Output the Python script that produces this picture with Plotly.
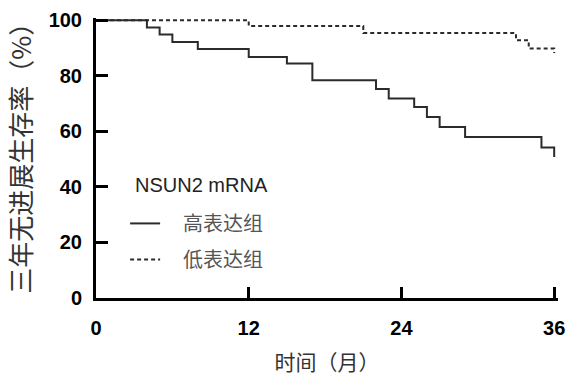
import plotly.graph_objects as go

# Data (months, survival %)
high_months = [0, 4, 5, 6, 8, 12, 15, 17, 22, 23, 25, 26, 27, 29, 35, 36]
high_surv = [100, 97.4, 94.9, 92.2, 89.6, 86.8, 84.4, 78.4, 75.2, 71.8, 68.8, 65.2, 61.6, 58.0, 54.2, 50.8]
low_months = [0, 12, 21, 33, 34, 36]
low_surv = [100, 97.9, 95.4, 92.8, 89.8, 88.2]

x_ticks = [0, 12, 24, 36]
y_ticks = [0, 20, 40, 60, 80, 100]

legend_title = "NSUN2 mRNA"
name_high = "高表达组"
name_low = "低表达组"
y_title = "三年无进展生存率（%）"
x_title = "时间（月）"

pad = "\u00a0" * 4

fig = go.Figure()
fig.add_trace(go.Scatter(x=high_months, y=high_surv, mode="lines", line_shape="hv",
                         line=dict(color="#2b2b2b", width=2), name=pad + name_high, legendgroup="a"))
fig.add_trace(go.Scatter(x=low_months, y=low_surv, mode="lines", line_shape="hv", yaxis="y2",
                         line=dict(color="#2b2b2b", width=2, dash="4px,3px"), name=pad + name_low, legendgroup="b"))

tickfont = dict(family="Liberation Sans, Arial", size=20, color="black", weight="bold")
cjk = "Noto Sans CJK SC"
y_range = [0, 100.8]

fig.update_layout(
    width=567, height=378,
    margin=dict(l=96, r=9, t=18, b=80),
    plot_bgcolor="white", paper_bgcolor="white",
    showlegend=True,
    legend=dict(
        x=0.063, y=0.336, xanchor="left", yanchor="top",
        bgcolor="rgba(0,0,0,0)",
        font=dict(family=cjk, size=20, color="#555"),
        itemwidth=30, tracegroupgap=7,
    ),
    annotations=[
        dict(text=legend_title, xref="paper", yref="paper", x=0.080, y=0.404,
             xanchor="left", yanchor="middle", showarrow=False,
             font=dict(family="Liberation Sans, Arial", size=20, color="#222")),
        dict(text=y_title, xref="paper", yref="paper", x=-0.1646, y=0.522,
             xanchor="center", yanchor="middle", showarrow=False, textangle=-90,
             font=dict(family=cjk, size=26, color="#333")),
    ],
    xaxis=dict(
        range=[0, 36.3], tickvals=x_ticks, ticktext=[str(v) for v in x_ticks],
        showline=True, linecolor="black", linewidth=3, mirror=False,
        ticks="inside", ticklen=11, tickwidth=3, tickcolor="black",
        showgrid=False, zeroline=False, tickfont=tickfont, ticklabelstandoff=10,
        automargin=False,
        title=dict(text=x_title, font=dict(family=cjk, size=21, color="#333"), standoff=18),
    ),
    yaxis=dict(
        range=y_range, tickvals=y_ticks, ticktext=[str(v) for v in y_ticks],
        showline=True, linecolor="black", linewidth=3, mirror=False,
        ticks="outside", ticklen=7, tickwidth=1, tickcolor="rgba(0,0,0,0)",
        showgrid=False, zeroline=False, tickfont=tickfont,
        automargin=False,
    ),
    yaxis2=dict(
        range=y_range, tickvals=y_ticks, overlaying="y", side="left", anchor="x",
        showline=False, showticklabels=False,
        ticks="inside", ticklen=12, tickwidth=3, tickcolor="black",
        showgrid=False, zeroline=False, automargin=False,
    ),
)

fig.write_html("out.html", config={"displayModeBar": False},
               post_script="document.body.style.margin='0';document.body.style.overflow='hidden';")
